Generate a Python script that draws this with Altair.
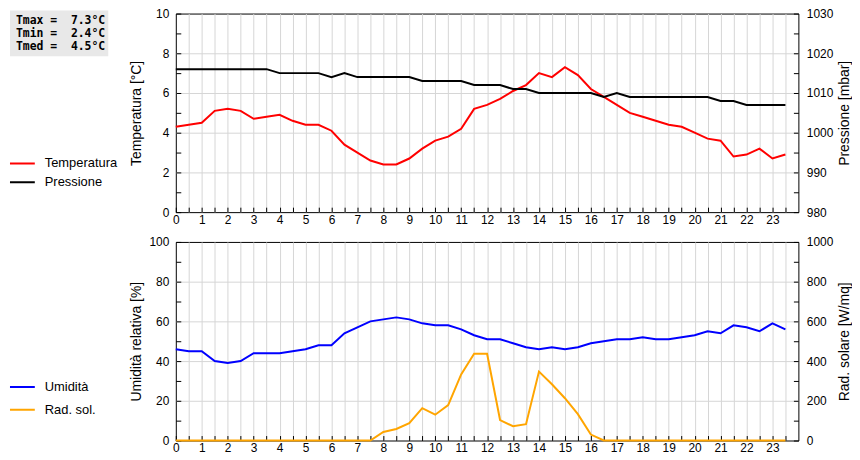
import altair as alt
import pandas as pd

# ---- data (half-hour readings) ----
ore = [h / 2 for h in range(48)]
temperatura = [4.3, 4.4, 4.5, 5.1, 5.2, 5.1, 4.7, 4.8, 4.9, 4.6, 4.4, 4.4,
               4.1, 3.4, 3.0, 2.6, 2.4, 2.4, 2.7, 3.2, 3.6, 3.8, 4.2, 5.2,
               5.4, 5.7, 6.1, 6.4, 7.0, 6.8, 7.3, 6.9, 6.2, 5.8, 5.4, 5.0,
               4.8, 4.6, 4.4, 4.3, 4.0, 3.7, 3.6, 2.8, 2.9, 3.2, 2.7, 2.9]
pressione = [1016, 1016, 1016, 1016, 1016, 1016, 1016, 1016, 1015, 1015, 1015, 1015,
             1014, 1015, 1014, 1014, 1014, 1014, 1014, 1013, 1013, 1013, 1013, 1012,
             1012, 1012, 1011, 1011, 1010, 1010, 1010, 1010, 1010, 1009, 1010, 1009,
             1009, 1009, 1009, 1009, 1009, 1009, 1008, 1008, 1007, 1007, 1007, 1007]
umidita = [46, 45, 45, 40, 39, 40, 44, 44, 44, 45, 46, 48,
           48, 54, 57, 60, 61, 62, 61, 59, 58, 58, 56, 53,
           51, 51, 49, 47, 46, 47, 46, 47, 49, 50, 51, 51,
           52, 51, 51, 52, 53, 55, 54, 58, 57, 55, 59, 56]
radiazione = [0, 0, 0, 0, 0, 0, 0, 0, 0, 0, 0, 0,
              0, 0, 0, 0, 43, 58, 87, 163, 130, 178, 333, 437,
              437, 103, 72, 82, 347, 283, 213, 133, 30, 0, 0, 0,
              0, 0, 0, 0, 0, 0, 0, 0, 0, 0, 0, 0]

serie_top = ["Temperatura", "Pressione"]
colori_top = ["#ff0000", "#000000"]
serie_bot = ["Umidità", "Rad. sol."]
colori_bot = ["#0000ff", "#ffa500"]

x_ticks = ore
temp_ticks = list(range(0, 11))
press_ticks = list(range(980, 1031, 5))
umid_ticks = list(range(0, 101, 10))
rad_ticks = list(range(0, 1001, 100))

NB = "\u00a0"
stats = [
    ("Tmax = %4.1f°C" % max(temperatura)).replace(" ", NB),
    ("Tmin = %4.1f°C" % min(temperatura)).replace(" ", NB),
    ("Tmed = %4.1f°C" % (sum(temperatura) / len(temperatura))).replace(" ", NB),
]

W, H = 627, 200
FONT = "Liberation Sans"
GRID = "#d6d6d6"


def x_enc():
    return alt.X(
        "ora:Q", title=None,
        scale=alt.Scale(domain=[0, 24], nice=False, zero=False),
        axis=alt.Axis(values=x_ticks,
                      labelExpr="datum.value % 1 === 0 ? format(datum.value, 'd') : ''",
                      offset=-5, tickSize=5, labelPadding=2, domain=False,
                      grid=True, gridColor=GRID,
                      gridOpacity={"condition": {"test": "datum.value > 0", "value": 1}, "value": 0},
                      labelFlush=False, labelOverlap=False))


def left_axis(vals, major, top, title):
    return alt.Axis(values=vals, orient="left", format="d",
                    labelExpr="datum.value %% %d === 0 ? datum.label : ''" % major,
                    offset=-5, tickSize=5, labelPadding=7, domain=False,
                    grid=True, gridColor=GRID,
                    gridOpacity={"condition": {"test": "datum.value %% %d === 0 && datum.value > 0 && datum.value < %d" % (major, top), "value": 1}, "value": 0},
                    labelFlush=False, labelOverlap=False,
                    title=title, titleX=-45, titleBaseline="middle", titleAlign="center")


def right_axis(vals, major, title):
    return alt.Axis(values=vals, orient="right", format="d",
                    labelExpr="datum.value %% %d === 0 ? datum.label : ''" % major,
                    offset=-5, tickSize=5, labelPadding=8, domain=False, grid=False,
                    labelFlush=False, labelOverlap=False,
                    title=title, titleX=51, titleAngle=270, titleBaseline="middle", titleAlign="center")


def legend(y, row_pad):
    return alt.Legend(title=None, orient="none", legendX=-168, legendY=y,
                      symbolType="stroke", symbolSize=625, symbolStrokeWidth=2,
                      clipHeight=13, rowPadding=row_pad, labelFontSize=13,
                      labelOffset=9, labelFont=FONT, labelColor="black")


# ---- top panel ----
top_df = pd.DataFrame({"ora": ore, "Temperatura": temperatura, "Pressione": pressione})
col_top = alt.Color("serie:N", scale=alt.Scale(domain=serie_top, range=colori_top),
                    legend=legend(144.5, 5))

stats_df = pd.DataFrame({"testo": ["\n".join(stats)]})
box = alt.Chart(stats_df).mark_rect(color="#e8e8e8").encode(
    x=alt.value(-167), x2=alt.value(-68), y=alt.value(-3), y2=alt.value(43))
box_txt = alt.Chart(stats_df).mark_text(
    align="left", baseline="middle", font="DejaVu Sans Mono", fontWeight="bold",
    fontSize=11.5, lineHeight=13, lineBreak="\n", color="black").encode(
    x=alt.value(-161), y=alt.value(8), text="testo:N")

temp_line = alt.Chart(top_df).transform_calculate(serie="'Temperatura'").mark_line(strokeWidth=2).encode(
    x=x_enc(),
    y=alt.Y("Temperatura:Q", scale=alt.Scale(domain=[0, 10], nice=False, zero=False),
            axis=left_axis(temp_ticks, 2, 10, "Temperatura [°C]")),
    color=col_top)
press_line = alt.Chart(top_df).transform_calculate(serie="'Pressione'").mark_line(strokeWidth=2).encode(
    x=x_enc(),
    y=alt.Y("Pressione:Q", scale=alt.Scale(domain=[980, 1030], nice=False, zero=False),
            axis=right_axis(press_ticks, 10, "Pressione [mbar]")),
    color=col_top)

top = alt.layer(box, box_txt, temp_line, press_line).resolve_scale(y="independent").properties(width=W, height=H)

# ---- bottom panel ----
bot_df = pd.DataFrame({"ora": ore, "Umidita": umidita, "Radiazione": radiazione})
col_bot = alt.Color("serie:N", scale=alt.Scale(domain=serie_bot, range=colori_bot),
                    legend=legend(139.5, 9))

umid_line = alt.Chart(bot_df).transform_calculate(serie="'Umidità'").mark_line(strokeWidth=2).encode(
    x=x_enc(),
    y=alt.Y("Umidita:Q", scale=alt.Scale(domain=[0, 100], nice=False, zero=False),
            axis=left_axis(umid_ticks, 20, 100, "Umidità relativa [%]")),
    color=col_bot)
rad_line = alt.Chart(bot_df).transform_calculate(serie="'Rad. sol.'").mark_line(strokeWidth=2).encode(
    x=x_enc(),
    y=alt.Y("Radiazione:Q", scale=alt.Scale(domain=[0, 1000], nice=False, zero=False),
            axis=right_axis(rad_ticks, 200, "Rad. solare [W/mq]")),
    color=col_bot)

bottom = alt.layer(umid_line, rad_line).resolve_scale(y="independent").properties(width=W, height=H)

chart = alt.vconcat(top, bottom, spacing=30, bounds="flush").resolve_scale(
    color="independent").properties(
    padding={"left": 0, "top": -3, "right": 0, "bottom": 0}).configure(
    font=FONT).configure_view(stroke="black", strokeWidth=1).configure_axis(
    labelFont=FONT, labelFontSize=12, labelColor="black",
    titleFont=FONT, titleFontSize=14, titleFontWeight="normal", titleColor="black",
    tickColor="black")

chart.save("out.html", embed_options={"renderer": "svg", "actions": False})
